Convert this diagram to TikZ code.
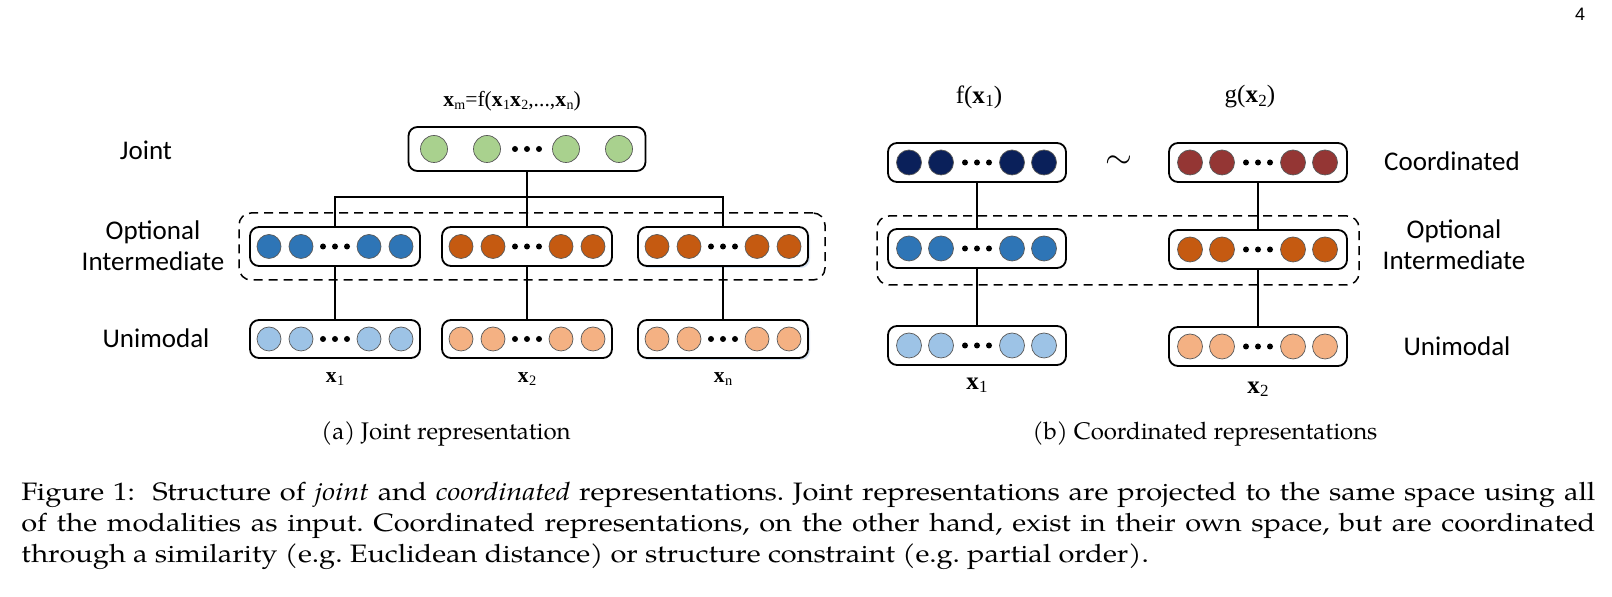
\documentclass[tikz,border=0pt]{standalone}
\usepackage{fontspec}
\setmainfont{texgyrepagella}[Extension=.otf, UprightFont=*-regular, ItalicFont=*-italic, BoldFont=*-bold, BoldItalicFont=*-bolditalic]
\newfontfamily\capfont{texgyrepagella}[Extension=.otf, UprightFont=*-regular, ItalicFont=*-italic, FakeStretch=1.15]
\newfontfamily\calfont{Carlito}
\newfontfamily\lsfont{Liberation Serif}
\newfontfamily\pgnfont{Liberation Sans}
\usetikzlibrary{shapes.geometric,shadows}
\definecolor{jgreen}{HTML}{A9D18E}
\definecolor{mblue}{HTML}{2E75B6}
\definecolor{morange}{HTML}{C55A11}
\definecolor{lblue}{HTML}{9DC3E6}
\definecolor{lorange}{HTML}{F4B183}
\definecolor{navy}{HTML}{0A205A}
\definecolor{dred}{HTML}{943634}
\definecolor{glowc}{HTML}{D6E4F3}
% name, cx, cy, w, h, colour, diameter, offsets, extra style
\newcommand\vrow[9]{%
  \node[vbox, minimum width=#4, minimum height=#5, #9] (#1) at (#2,#3) {};
  \foreach \o [count=\k] in {#8}
    \node[cell, fill=#6, minimum width=#7, minimum height=#7] (#1c\k) at (#2+\o,#3) {};
  \foreach \o [count=\k] in {-12,0,12}
    \node[dotn] (#1d\k) at (#2+\o,#3) {};
}
\newcommand\xb[2][7]{{\bfseries x}\kern0.2pt\raisebox{-0.3ex}{\fontsize{#1}{#1}\selectfont #2}}
\begin{document}
\frenchspacing
\begin{tikzpicture}[x=0.5pt,y=-0.5pt,
  vbox/.style={draw=black, line width=0.9pt, rounded corners=4.5pt, fill=white, inner sep=0pt},
  cell/.style={ellipse, draw=black!65, line width=0.35pt, inner sep=0pt},
  dotn/.style={circle, fill=black, inner sep=0pt, minimum size=3pt},
  dashbox/.style={draw=black, line width=0.75pt, dash pattern=on 4.5pt off 3pt, rounded corners=6pt, inner sep=0pt},
  link/.style={draw=black, line width=0.65pt},
  lab/.style={font=\calfont\fontsize{13.5}{15.5}\selectfont, align=center, inner sep=0pt},
  mlab/.style={font=\lsfont\fontsize{10.8}{12}\selectfont, inner sep=0pt},
  rlab/.style={font=\lsfont\fontsize{12.5}{14}\selectfont, inner sep=0pt},
  sub/.style={font=\fontsize{12}{14}\selectfont, inner sep=0pt},
  capline/.style={font=\capfont\fontsize{12.6}{15.5}\selectfont, inner sep=0pt, anchor=base west},
  glow/.style={drop shadow={shadow xshift=1pt, shadow yshift=-1pt, fill=glowc, opacity=0.9}},
]
\useasboundingbox[fill=white] (0,0) rectangle (1612,597);

% dashed groups
\node[dashbox, minimum width=293pt, minimum height=33.5pt] (dl) at (532,246.5) {};
\node[dashbox, minimum width=241pt, minimum height=34.5pt] (dr) at (1118,250.5) {};

% (a) joint
\vrow{joint}{527}{149}{118.5pt}{22pt}{jgreen}{13.5pt}{-93,-40,39,92}{}
\vrow{iA}{335}{246.5}{85pt}{19.5pt}{mblue}{12pt}{-66,-34,34,66}{}
\vrow{iB}{527}{246.5}{85pt}{19.5pt}{morange}{12pt}{-66,-34,34,66}{}
\vrow{iC}{723}{246.5}{85pt}{19.5pt}{morange}{12pt}{-66,-34,34,66}{glow}
\vrow{uA}{335}{339}{85pt}{19pt}{lblue}{12pt}{-66,-34,34,66}{}
\vrow{uB}{527}{339}{85pt}{19pt}{lorange}{12pt}{-66,-34,34,66}{}
\vrow{uC}{723}{339}{85pt}{19pt}{lorange}{12pt}{-66,-34,34,66}{glow}

\coordinate (jn) at (527,197);
\draw[link] (joint.south) -- (jn);
\draw[link] (iA.north) |- (jn) -| (iC.north);
\draw[link] (jn) -- (iB.north);
\draw[link] (iA.south) -- (uA.north);
\draw[link] (iB.south) -- (uB.north);
\draw[link] (iC.south) -- (uC.north);

% (b) coordinated
\vrow{cA}{977}{162.5}{89pt}{19.5pt}{navy}{12.5pt}{-68,-36,35,67}{}
\vrow{cB}{1258}{162.5}{89pt}{19.5pt}{dred}{12.5pt}{-68,-36,35,67}{}
\vrow{rA}{977}{248.5}{89pt}{19.5pt}{mblue}{12.5pt}{-68,-36,35,67}{}
\vrow{rB}{1258}{249.5}{89pt}{19.5pt}{morange}{12.5pt}{-68,-36,35,67}{}
\vrow{vA}{977}{345.5}{89pt}{19.5pt}{lblue}{12.5pt}{-68,-36,35,67}{}
\vrow{vB}{1258}{346.5}{89pt}{19.5pt}{lorange}{12.5pt}{-68,-36,35,67}{}
\draw[link] (cA.south) -- (rA.north);
\draw[link] (rA.south) -- (vA.north);
\draw[link] (cB.south) -- (rB.north);
\draw[link] (rB.south) -- (vB.north);
\node[inner sep=0pt] (tilde) at (1119,162) {\fontsize{17}{17}\selectfont$\sim$};

% row labels
\node[lab] (ljoint) at (146,150) {Joint};
\node[lab] (lopt) at (153,246) {Optional\\Intermediate};
\node[lab] (luni) at (156,338) {Unimodal};
\node[lab] (rcoord) at (1452,161) {Coordinated};
\node[lab] (ropt) at (1454,245) {Optional\\Intermediate};
\node[lab] (runi) at (1457,346) {Unimodal};

% math labels
\node[mlab] (xm) at (512,101) {\xb{m}=f(\xb{1}\xb{2},...,\xb{n})};
\node[mlab] (x1) at (335,379) {\xb[7.2]{1}};
\node[mlab] (x2) at (527,379) {\xb[7.2]{2}};
\node[mlab] (xn) at (723,379) {\xb[7.2]{n}};
\node[rlab] (fx) at (979,97) {f(\xb[8.5]{1})};
\node[rlab] (gx) at (1250,97) {g(\xb[8.5]{2})};
\node[rlab] (rx1) at (977,385) {\xb[8.5]{1}};
\node[rlab] (rx2) at (1258,389) {\xb[8.5]{2}};

% captions
\node[sub] (suba) at (446,434) {(a) Joint representation};
\node[sub] (subb) at (1205,434) {(b) Coordinated representations};
\node[capline] (cap1) at (21,501) {\makebox[787pt][s]{Figure 1:\ \ Structure of \textit{joint} and \textit{coordinated} representations. Joint representations are projected to the same space using all}};
\node[capline] (cap2) at (21,532) {\makebox[787pt][s]{of the modalities as input. Coordinated representations, on the other hand, exist in their own space, but are coordinated}};
\node[capline] (cap3) at (21,563) {through a similarity (e.g.\ Euclidean distance) or structure constraint (e.g.\ partial order).};
\node[inner sep=0pt, font=\pgnfont\fontsize{9}{9}\selectfont] (pg) at (1580,14) {4};
\end{tikzpicture}
\end{document}
